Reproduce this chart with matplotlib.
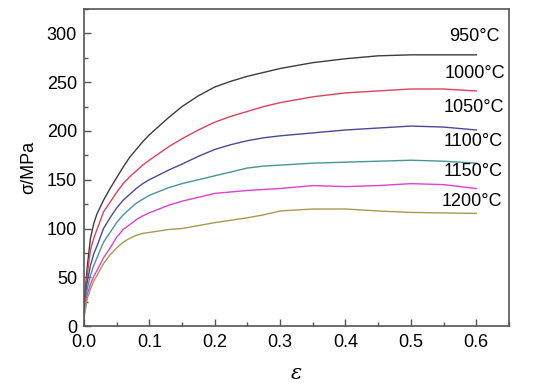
import matplotlib
matplotlib.use("Agg")
import matplotlib.pyplot as plt
from matplotlib.ticker import MultipleLocator

plt.rcParams['font.family'] = ['Liberation Sans', 'DejaVu Sans']

strain = [0, 0.002, 0.005, 0.01, 0.015, 0.02, 0.03, 0.04, 0.05, 0.06, 0.07,
          0.08, 0.09, 0.1, 0.115, 0.13, 0.15, 0.175, 0.2, 0.225, 0.25, 0.275,
          0.3, 0.35, 0.4, 0.45, 0.5, 0.55, 0.6]

s950 = [12, 35, 60, 90, 105, 115, 129, 141, 152, 163, 173,
        181, 189, 196, 205, 214, 225, 236, 245, 251, 256, 260,
        264, 270, 274, 277, 278, 278, 278]
s1000 = [12, 30, 52, 78, 90, 99, 117, 127, 137, 146, 153,
         159, 165, 170, 177, 184, 192, 201, 209, 215, 220, 225,
         229, 235, 239, 241, 243, 243, 241]
s1050 = [12, 26, 45, 62, 74, 82, 100, 111, 121, 129, 135,
         141, 146, 150, 155, 160, 166, 174, 181, 186, 190, 193,
         195, 198, 201, 203, 205, 204, 201]
s1100 = [12, 22, 38, 52, 62, 70, 86, 96, 106, 114, 120,
         126, 130, 134, 138, 142, 146, 150, 154, 158, 162, 164,
         165, 167, 168, 169, 170, 169, 167]
s1150 = [10, 18, 32, 43, 51, 57, 70, 80, 91, 99, 104,
         109, 113, 116, 120, 124, 128, 132, 136, 137.5, 139, 140,
         141, 144, 143, 144, 146, 145, 141]
s1200 = [8, 16, 28, 38, 46, 52, 64, 73, 80, 86, 90,
         93, 95, 96, 97.5, 99, 100, 103, 106, 108.5, 111, 114,
         118, 120, 120, 118, 116.5, 116, 115.5]

series = [s950, s1000, s1050, s1100, s1150, s1200]
labels = ['950°C', '1000°C', '1050°C', '1100°C', '1150°C', '1200°C']
colors = ['#3c3c3c', '#e0405a', '#4a4a94', '#4a9494', '#e040d0', '#a89850']
label_x = [0.558, 0.552, 0.550, 0.550, 0.550, 0.547]
label_y = [297, 259, 224, 189, 158, 128]

fig = plt.figure(figsize=(5.52, 3.91), dpi=100)
ax = fig.add_axes([0.152, 0.166, 0.770, 0.811])

for s, c in zip(series, colors):
    ax.plot(strain, s, color=c, lw=1.0)

for lab, lx, ly in zip(labels, label_x, label_y):
    ax.text(lx, ly, lab, fontsize=13, ha='left', va='center', color='black')

ax.set_xlim(0, 0.65)
ax.set_ylim(0, 325)
ax.xaxis.set_major_locator(MultipleLocator(0.1))
ax.xaxis.set_minor_locator(MultipleLocator(0.05))
ax.yaxis.set_major_locator(MultipleLocator(50))
ax.yaxis.set_minor_locator(MultipleLocator(25))
ax.set_xticks([0, 0.1, 0.2, 0.3, 0.4, 0.5, 0.6])
ax.set_xticklabels(['0.0', '0.1', '0.2', '0.3', '0.4', '0.5', '0.6'])
ax.tick_params(which='both', direction='in', color='#555555', labelsize=13)
ax.tick_params(axis='x', which='major', pad=6)
ax.tick_params(axis='y', which='major', pad=5)
ax.tick_params(which='major', length=5, width=1)
ax.tick_params(which='minor', length=3, width=1)
for sp in ax.spines.values():
    sp.set_color('#555555')
    sp.set_linewidth(1.2)

ax.set_xlabel('ε', fontsize=15, style='italic', family=['DejaVu Serif'])
ax.set_ylabel('σ/MPa', fontsize=13)
ax.yaxis.set_label_coords(-0.11, 0.5)
ax.xaxis.set_label_coords(0.5, -0.12)

fig.savefig('out.png', dpi=100)
